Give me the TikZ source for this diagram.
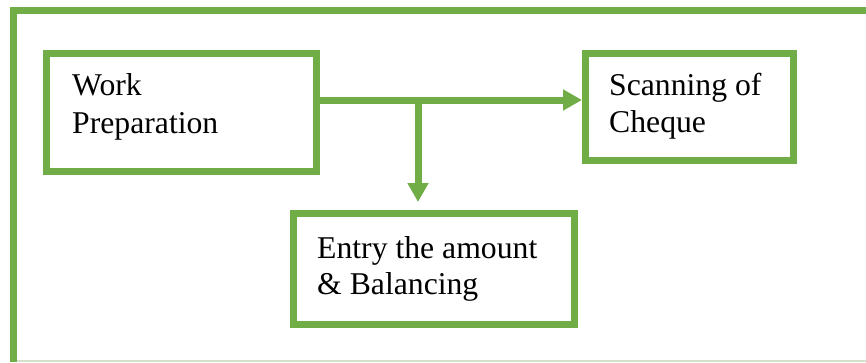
\documentclass[tikz,border=0pt]{standalone}
\usepackage{fontspec}
\setmainfont{Liberation Serif}
\usetikzlibrary{arrows.meta}
\definecolor{gr}{HTML}{70AD47}
\definecolor{lightedge}{HTML}{D5E0CB}
\begin{document}
\begin{tikzpicture}[x=1pt,y=-1pt,
  box/.style={draw=gr,line width=7pt,rectangle,inner sep=0pt,fill=white},
  txt/.style={anchor=base west,inner sep=0pt,font=\fontsize{31.7}{38}\selectfont},
  arr/.style={draw=gr,line width=7pt,-{Triangle[length=19pt,width=20pt]}}]
\useasboundingbox (0,0) rectangle (866,362);
% outer frame
\draw[lightedge,line width=1.5pt] (13,361) -- (866,361);
\draw[gr,line width=7pt] (866,10) -- (13,10) -- (13,362);
% boxes
\node[box,minimum width=270pt,minimum height=118pt] (wp) at (181.5,112.5) {};
\node[box,minimum width=208pt,minimum height=107pt] (sc) at (689.5,107) {};
\node[box,minimum width=281pt,minimum height=111pt] (en) at (434,269) {};
% texts
\node[txt] (wp1) at (72,95) {Work};
\node[txt] (wp2) at (72,133) {Preparation};
\node[txt] (sc1) at (609,95) {Scanning of};
\node[txt] (sc2) at (609,132) {Cheque};
\node[txt] (en1) at (317,258) {Entry the amount};
\node[txt] (en2) at (317,294) {\& Balancing};
% connectors
\coordinate (j) at (418,100);
\draw[arr] (wp.east |- j) -- (sc.west |- j);
\draw[arr,shorten >=8pt] (j) -- (j |- en.north);
\end{tikzpicture}
\end{document}
